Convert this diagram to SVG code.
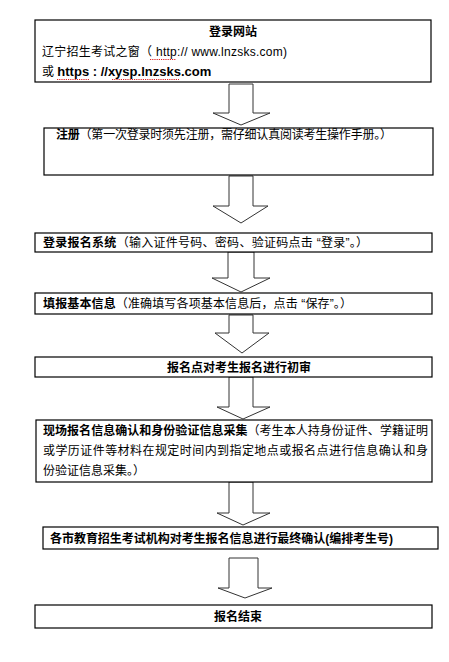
<svg xmlns="http://www.w3.org/2000/svg" width="449" height="662" viewBox="0 0 449 662">
<style>
.box{fill:#fff;stroke:#000;stroke-width:1.2}
.arr{fill:#fff;stroke:#333;stroke-width:1}
text{font-family:"Liberation Sans","Noto Sans CJK SC",sans-serif;font-size:12px;fill:#000}
.b{font-weight:bold}
.c{text-anchor:middle}
.sp{fill:none;stroke:#d22;stroke-width:1;stroke-dasharray:1.2 1}
</style>
<rect width="449" height="662" fill="#fff"/>
<g id="connectors">
<polygon class="arr" points="229,84 253,84 253,113 270,113 241,125 213,113 229,113"/>
<polygon class="arr" points="229,176 253,176 253,206 268,206 241,223 213,206 229,206"/>
<polygon class="arr" points="228,252 254,252 254,278 270,278 241,292 212,278 228,278"/>
<polygon class="arr" points="229,315 253,315 253,333 269,333 242,353 215,333 229,333"/>
<polygon class="arr" points="229,377 253,377 253,407 270,407 243,419 217,407 229,407"/>
<polygon class="arr" points="229,482 253,482 253,513 270,513 243,525 217,513 229,513"/>
<polygon class="arr" points="229,558 258,558 258,588 272,588 245,598 218,588 229,588"/>
</g>
<g id="n1">
<rect class="box" x="35" y="20" width="396" height="62"/>
<text class="b c" x="233" y="36">登录网站</text>
<text x="42" y="56" textLength="245" lengthAdjust="spacing">辽宁招生考试之窗（ http:// www.lnzsks.com)</text>
<text x="42" y="76"><tspan>或 </tspan><tspan class="b" font-size="13">https : //xysp.lnzsks.com</tspan></text>
<line class="sp" x1="150" y1="59.5" x2="176" y2="59.5"/>
<line class="sp" x1="57" y1="79.5" x2="90" y2="79.5"/>
<line class="sp" x1="112" y1="79.5" x2="179" y2="79.5"/>
</g>
<g id="n2">
<rect class="box" x="44" y="128" width="389" height="47"/>
<text x="56" y="139" textLength="336" lengthAdjust="spacing"><tspan class="b">注册</tspan>（第一次登录时须先注册，需仔细认真阅读考生操作手册。）</text>
</g>
<g id="n3">
<rect class="box" x="35" y="233" width="397" height="19"/>
<text x="43" y="246.5" textLength="325" lengthAdjust="spacing"><tspan class="b">登录报名系统</tspan>（输入证件号码、密码、验证码点击 “登录”。）</text>
</g>
<g id="n4">
<rect class="box" x="35" y="293" width="397" height="21"/>
<text x="43" y="307.5" textLength="309" lengthAdjust="spacing"><tspan class="b">填报基本信息</tspan>（准确填写各项基本信息后，点击 “保存”。）</text>
</g>
<g id="n5">
<rect class="box" x="35" y="357" width="397" height="20"/>
<text class="b c" x="239" y="372">报名点对考生报名进行初审</text>
</g>
<g id="n6">
<rect class="box" x="36" y="420" width="396" height="62"/>
<text x="43" y="434.5" textLength="385" lengthAdjust="spacing"><tspan class="b">现场报名信息确认和身份验证信息采集</tspan>（考生本人持身份证件、学籍证明</text>
<text x="43" y="454.5" textLength="385" lengthAdjust="spacing">或学历证件等材料在规定时间内到指定地点或报名点进行信息确认和身</text>
<text x="43" y="474.5">份验证信息采集。）</text>
</g>
<g id="n7">
<rect class="box" x="43" y="527" width="395" height="22"/>
<text class="b" x="50" y="542.5" textLength="343" lengthAdjust="spacing">各市教育招生考试机构对考生报名信息进行最终确认(编排考生号)</text>
</g>
<g id="n8">
<rect class="box" x="35" y="605" width="397" height="23"/>
<text class="b c" x="238" y="621">报名结束</text>
</g>
</svg>
